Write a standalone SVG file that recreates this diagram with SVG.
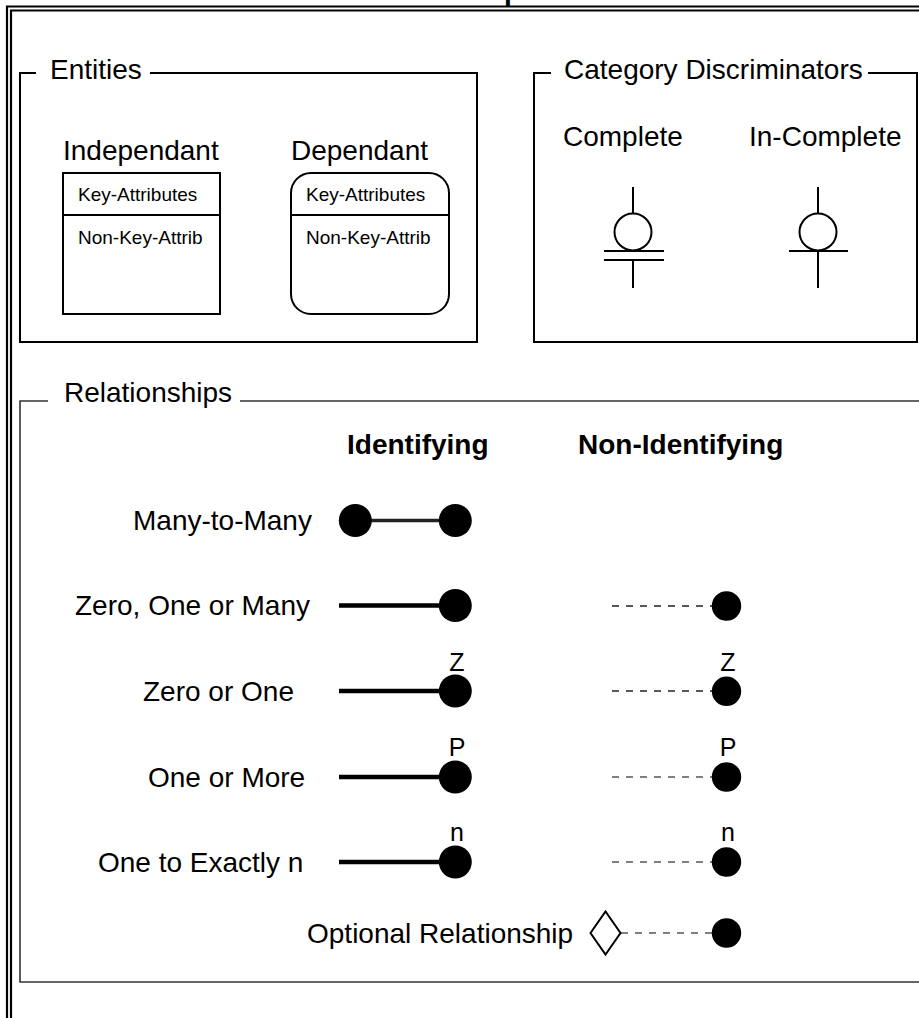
<svg xmlns="http://www.w3.org/2000/svg" width="919" height="1018" viewBox="0 0 919 1018">
<style>
text{font-family:"Liberation Sans",Arial,Helvetica,sans-serif;fill:#000}
.lbl{font-size:28px}
.hdr{font-size:28px;font-weight:bold}
.sm{font-size:19px}
.card{font-size:25px;text-anchor:middle}
.frame{fill:none;stroke:#000;stroke-width:2}
.rframe{fill:none;stroke:#333;stroke-width:1.6}
.ent{fill:#fff;stroke:#000;stroke-width:2}
.sym{fill:none;stroke:#000;stroke-width:2}
.dot{fill:#000}
.ident{stroke:#000;stroke-width:4.5}
.mm{stroke:#222;stroke-width:3.5}
.nonid{stroke:#222;stroke-width:1.5;stroke-dasharray:7 7}
.nonidg{stroke:#555;stroke-width:1.5;stroke-dasharray:7 7}
</style>
<rect width="919" height="1018" fill="#fff"/>
<g id="border">
<text x="504" y="0" class="hdr">p</text>
<path d="M7,1018 V6.5 H919 M11,1018 V10.5 H919" fill="none" stroke="#000" stroke-width="2.2"/>
</g>
<g id="entities-frame">
<path class="frame" d="M36,73 H20 V342 H477 V73 H150"/>
<text x="50" y="79" class="lbl">Entities</text>
</g>
<g id="category-frame">
<path class="frame" d="M551,73 H534 V342 H917 V73 H868"/>
<text x="564" y="79" class="lbl">Category Discriminators</text>
</g>
<g id="relationships-frame">
<path class="rframe" d="M48,401 H20 V982 H919 M240,401 H919"/>
<text x="64" y="402" class="lbl">Relationships</text>
</g>
<g id="independent-entity">
<text x="63" y="160" class="lbl">Independant</text>
<rect class="ent" x="63" y="173" width="157" height="141"/>
<line class="sym" x1="63" y1="215" x2="220" y2="215"/>
<text x="78" y="201" class="sm">Key-Attributes</text>
<text x="78" y="244" class="sm">Non-Key-Attrib</text>
</g>
<g id="dependent-entity">
<text x="291" y="160" class="lbl">Dependant</text>
<rect class="ent" x="291" y="173" width="158" height="141" rx="20" ry="20"/>
<line class="sym" x1="291" y1="215" x2="449" y2="215"/>
<text x="306" y="201" class="sm">Key-Attributes</text>
<text x="306" y="244" class="sm">Non-Key-Attrib</text>
</g>
<g id="complete-discriminator">
<text x="563" y="146" class="lbl">Complete</text>
<line class="sym" x1="633" y1="187" x2="633" y2="214"/>
<circle class="sym" cx="633" cy="232" r="18.5"/>
<line class="sym" x1="604" y1="251" x2="664" y2="251"/>
<line class="sym" x1="604" y1="260" x2="664" y2="260"/>
<line class="sym" x1="633" y1="260" x2="633" y2="288"/>
</g>
<g id="incomplete-discriminator">
<text x="749" y="146" class="lbl">In-Complete</text>
<line class="sym" x1="818" y1="187" x2="818" y2="214"/>
<circle class="sym" cx="818" cy="232" r="18.5"/>
<line class="sym" x1="789" y1="251" x2="848" y2="251"/>
<line class="sym" x1="818" y1="251" x2="818" y2="288"/>
</g>
<g id="column-headers">
<text x="347" y="454" class="hdr">Identifying</text>
<text x="578" y="454" class="hdr">Non-Identifying</text>
</g>
<g id="connectors">
<line class="mm" x1="355" y1="520.5" x2="455" y2="520.5"/>
<line class="ident" x1="339" y1="605.5" x2="450" y2="605.5"/>
<line class="nonid" x1="612" y1="606" x2="718" y2="606"/>
<line class="ident" x1="339" y1="691" x2="450" y2="691"/>
<line class="nonid" x1="612" y1="691" x2="718" y2="691"/>
<line class="ident" x1="339" y1="777" x2="450" y2="777"/>
<line class="nonidg" x1="612" y1="777" x2="718" y2="777"/>
<line class="ident" x1="339" y1="862" x2="450" y2="862"/>
<line class="nonidg" x1="612" y1="862" x2="718" y2="862"/>
<line class="nonidg" x1="621" y1="933" x2="718" y2="933"/>
</g>
<g id="many-to-many">
<text x="133" y="530" class="lbl">Many-to-Many</text>
<circle class="dot" cx="355.3" cy="520.5" r="16.5"/>
<circle class="dot" cx="455.3" cy="520.5" r="16.5"/>
</g>
<g id="zero-one-many">
<text x="75" y="615" class="lbl">Zero, One or Many</text>
<circle class="dot" cx="455.3" cy="605.5" r="16.5"/>
<circle class="dot" cx="726.5" cy="606" r="14.7"/>
</g>
<g id="zero-or-one">
<text x="143" y="701" class="lbl">Zero or One</text>
<text x="457" y="671" class="card">Z</text>
<circle class="dot" cx="455.3" cy="691" r="16.5"/>
<text x="728" y="671" class="card">Z</text>
<circle class="dot" cx="726.5" cy="691.3" r="14.7"/>
</g>
<g id="one-or-more">
<text x="148" y="787" class="lbl">One or More</text>
<text x="457" y="756" class="card">P</text>
<circle class="dot" cx="455.3" cy="777" r="16.5"/>
<text x="728" y="756" class="card">P</text>
<circle class="dot" cx="726.5" cy="777" r="14.7"/>
</g>
<g id="one-to-exactly-n">
<text x="98" y="872" class="lbl">One to Exactly n</text>
<text x="457" y="841" class="card">n</text>
<circle class="dot" cx="455.3" cy="862" r="16.5"/>
<text x="728" y="841" class="card">n</text>
<circle class="dot" cx="726.5" cy="862" r="14.7"/>
</g>
<g id="optional-relationship">
<text x="307" y="943" class="lbl">Optional Relationship</text>
<polygon class="ent" points="590.5,933 605.5,911.5 620.5,933 605.5,954.5"/>
<circle class="dot" cx="726.5" cy="933" r="14.7"/>
</g>
</svg>
